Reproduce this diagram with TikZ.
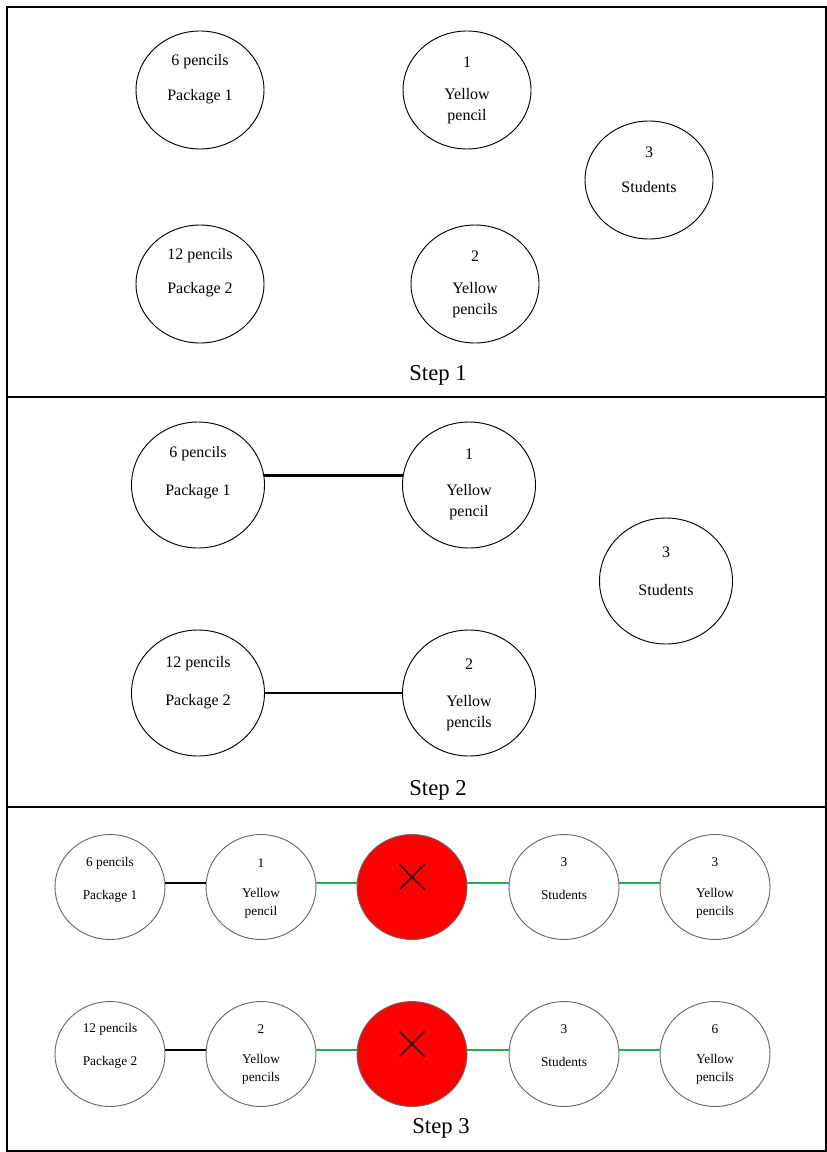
\documentclass[tikz,border=0pt]{standalone}
\usepackage{fontspec}
\setmainfont{Liberation Serif}
\usetikzlibrary{shapes.geometric}
\definecolor{lgreen}{RGB}{30,178,80}
\definecolor{cgray}{RGB}{105,105,105}
\definecolor{xred}{RGB}{255,0,0}
\begin{document}
\begin{tikzpicture}[x=0.75pt,y=-0.75pt,
  eA/.style={ellipse, draw=black, line width=0.7pt, minimum width=96pt, minimum height=88.5pt, inner sep=0pt},
  eB/.style={ellipse, draw=black, line width=0.7pt, minimum width=99.75pt, minimum height=94.5pt, inner sep=0pt},
  eC/.style={ellipse, draw=cgray, line width=0.7pt, minimum width=82.5pt, minimum height=78.75pt, inner sep=0pt},
  eR/.style={eC, fill=xred},
  tA/.style={font=\fontsize{12}{15.75}\selectfont, align=center, inner sep=0pt},
  tC/.style={font=\fontsize{10}{13.5}\selectfont, align=center, inner sep=0pt},
  steplbl/.style={font=\fontsize{17}{20}\selectfont, inner sep=0pt},
  blk/.style={draw=black, line width=1.8pt},
  grn/.style={draw=lgreen, line width=1.8pt},
  sep/.style={draw=black, line width=1.9pt},
  xmark/.style={draw=black, line width=0.9pt}]
\useasboundingbox (0,0) rectangle (827,1152);
\fill[white] (0,0) rectangle (827,1152);
% frame
\draw[line width=1.5pt] (7,7) rectangle (826,1151);
\draw[sep] (7,397) -- (826,397);
\draw[sep] (7,807) -- (826,807);

% ---------- Step 1 ----------
\node[eA] (a1) at (200,90) {};
\node[tA] (a1t1) at (200,62) {6 pencils};
\node[tA] (a1t2) at (200,97) {Package 1};
\node[eA] (a2) at (467,90) {};
\node[tA] (a2t1) at (467,62) {1};
\node[tA] (a2t2) at (467,106.5) {Yellow\\pencil};
\node[eA] (a3) at (649,180) {};
\node[tA] (a3t1) at (649,152) {3};
\node[tA] (a3t2) at (649,187) {Students};
\node[eA] (a4) at (200,284) {};
\node[tA] (a4t1) at (200,256) {12 pencils};
\node[tA] (a4t2) at (200,290) {Package 2};
\node[eA] (a5) at (475,284) {};
\node[tA] (a5t1) at (475,256) {2};
\node[tA] (a5t2) at (475,300.5) {Yellow\\pencils};
\node[steplbl] (s1) at (438,375) {Step 1};

% ---------- Step 2 ----------
\node[eB] (b1) at (198,485) {};
\node[tA] (b1t1) at (198,454) {6 pencils};
\node[tA] (b1t2) at (198,492) {Package 1};
\node[eB] (b2) at (469,485) {};
\node[tA] (b2t1) at (469,454) {1};
\node[tA] (b2t2) at (469,502.5) {Yellow\\pencil};
\node[eB] (b3) at (666,581) {};
\node[tA] (b3t1) at (666,552) {3};
\node[tA] (b3t2) at (666,590) {Students};
\node[eB] (b4) at (198,693) {};
\node[tA] (b4t1) at (198,664) {12 pencils};
\node[tA] (b4t2) at (198,702) {Package 2};
\node[eB] (b5) at (469,693) {};
\node[tA] (b5t1) at (469,664) {2};
\node[tA] (b5t2) at (469,713.5) {Yellow\\pencils};
\draw[blk] (b1.8) -- (b2.172);
\draw[blk] (b4.0) -- (b5.180);
\node[steplbl] (s2) at (438,790) {Step 2};

% ---------- Step 3, row 1 ----------
\node[eC] (c1) at (110,887) {};
\node[tC] (c1t1) at (110,863) {6 pencils};
\node[tC] (c1t2) at (110,896) {Package 1};
\node[eC] (c2) at (261,887) {};
\node[tC] (c2t1) at (261,863) {1};
\node[tC] (c2t2) at (261,903) {Yellow\\pencil};
\node[eR] (c3) at (412,887) {};
\node[eC] (c4) at (564,887) {};
\node[tC] (c4t1) at (564,862) {3};
\node[tC] (c4t2) at (564,895) {Students};
\node[eC] (c5) at (715,887) {};
\node[tC] (c5t1) at (715,862) {3};
\node[tC] (c5t2) at (715,903) {Yellow\\pencils};
\draw[blk] (c1.4) -- (c2.176);
\draw[grn] (c2.4) -- (c3.176);
\draw[grn] (c3.4) -- (c4.176);
\draw[grn] (c4.4) -- (c5.176);
\draw[xmark] ([shift={(-12.5,-22.5)}]c3.center) -- ([shift={(12.5,2.5)}]c3.center);
\draw[xmark] ([shift={(12.5,-22.5)}]c3.center) -- ([shift={(-12.5,2.5)}]c3.center);

% ---------- Step 3, row 2 ----------
\node[eC] (d1) at (110,1054) {};
\node[tC] (d1t1) at (110,1029) {12 pencils};
\node[tC] (d1t2) at (110,1062) {Package 2};
\node[eC] (d2) at (261,1054) {};
\node[tC] (d2t1) at (261,1029) {2};
\node[tC] (d2t2) at (261,1069) {Yellow\\pencils};
\node[eR] (d3) at (412,1054) {};
\node[eC] (d4) at (564,1054) {};
\node[tC] (d4t1) at (564,1029) {3};
\node[tC] (d4t2) at (564,1062) {Students};
\node[eC] (d5) at (715,1054) {};
\node[tC] (d5t1) at (715,1029) {6};
\node[tC] (d5t2) at (715,1069) {Yellow\\pencils};
\draw[blk] (d1.4) -- (d2.176);
\draw[grn] (d2.4) -- (d3.176);
\draw[grn] (d3.4) -- (d4.176);
\draw[grn] (d4.4) -- (d5.176);
\draw[xmark] ([shift={(-12.5,-22.5)}]d3.center) -- ([shift={(12.5,2.5)}]d3.center);
\draw[xmark] ([shift={(12.5,-22.5)}]d3.center) -- ([shift={(-12.5,2.5)}]d3.center);
\node[steplbl] (s3) at (441,1128) {Step 3};
\end{tikzpicture}
\end{document}
